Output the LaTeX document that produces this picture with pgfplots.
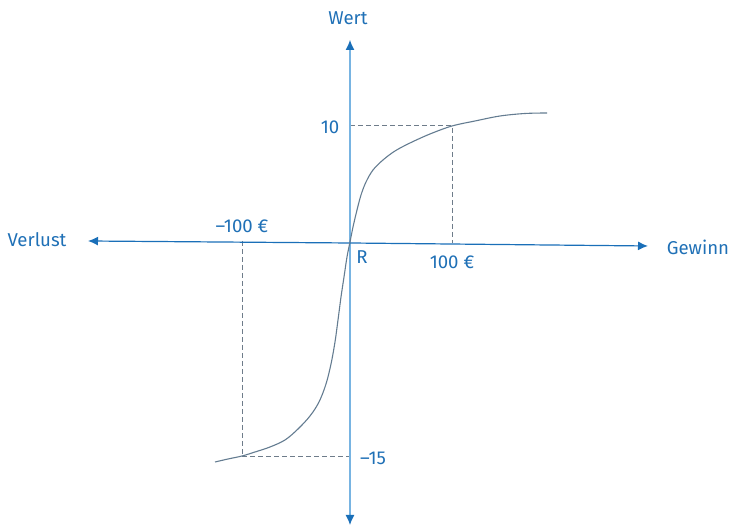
\documentclass[border=0pt]{standalone}
\usepackage{fontspec}
\setmainfont{Fira Sans}
\usepackage{pgfplots}
\pgfplotsset{compat=1.18}
\usetikzlibrary{arrows.meta}
\definecolor{txtblue}{HTML}{1F70B6}
\definecolor{axdark}{HTML}{1A6FB8}
\definecolor{axlight}{HTML}{78B4E2}
\definecolor{curvecol}{HTML}{647C91}
\definecolor{dashcol}{HTML}{6E7C8A}
\tikzset{lbl/.style={text=txtblue, font=\fontsize{9.3}{11}\selectfont, inner sep=0pt}}
\begin{document}
\begin{tikzpicture}
\begin{axis}[x=0.5pt,y=0.5pt, hide axis, clip=false,
  xmin=-350, xmax=385, ymin=-287, ymax=242]
\path (axis cs:-350,-287) rectangle (axis cs:385,242);
% dashed guides
\addplot[dashcol, dash pattern=on 2.5pt off 1.5pt, line width=0.5pt] coordinates {(0,116)(102,116)(102,-1)};
\addplot[dashcol, dash pattern=on 2.5pt off 1.5pt, line width=0.5pt] coordinates {(-108,1)(-108,-215)(0,-215)};
% axes
\addplot[axlight, line width=1pt] coordinates {(0,-276)(0,195)};
\addplot[axdark, line width=0.6pt, -{Latex[length=5pt,width=4.5pt]}] coordinates {(0,192)(0,202)};
\addplot[axdark, line width=0.6pt, -{Latex[length=5pt,width=4.5pt]}] coordinates {(0,-273)(0,-283)};
\addplot[axdark, line width=0.6pt, -{Latex[length=5pt,width=4.5pt]}] coordinates {(0,-1)(298,-4)};
\addplot[axdark, line width=0.6pt, -{Latex[length=5pt,width=4.5pt]}] coordinates {(0,-1)(-262,1)};
% value function
\addplot[curvecol, line width=0.55pt, smooth, tension=0.55] coordinates {
(197,129)(175,128.5)(150,126)(125,121)(102,116)(80,108)(60,99)(45,91)(33,82)(23,72)(16,60)(11,47)(7,32)(3,15)(0,0)
(-3,-15)(-6,-35)(-9,-55)(-12,-78)(-15,-100)(-19,-122)(-24,-142)(-31,-160)(-40,-174)(-52,-187)(-65,-198)(-80,-205)(-95,-210)(-108,-214)(-122,-217)(-135,-220)};
% labels
\node[lbl] at (axis cs:-2,224) {Wert};
\node[lbl] at (axis cs:-313,2) {Verlust};
\node[lbl] at (axis cs:348,-5) {Gewinn};
\node[lbl] at (axis cs:-108,16) {–100 €};
\node[lbl] at (axis cs:102,-20) {100 €};
\node[lbl] at (axis cs:12,-15) {R};
\node[lbl] at (axis cs:-20,115) {10};
\node[lbl] at (axis cs:23,-216) {–15};
\end{axis}
\end{tikzpicture}
\end{document}
